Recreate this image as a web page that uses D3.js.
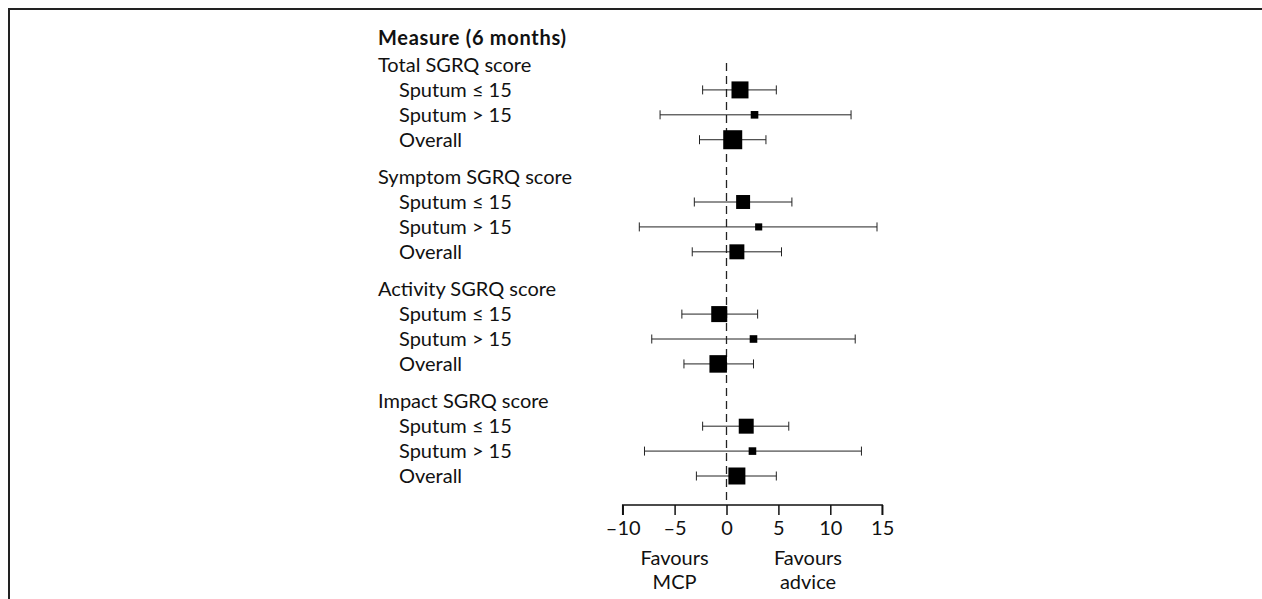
<!DOCTYPE html>
<html>
<head>
<meta charset="utf-8">
<script src="https://cdn.jsdelivr.net/npm/d3@7"></script>
<style>
  html, body { margin: 0; padding: 0; background: #fff; }
  svg { display: block; }
  text { font-family: Lato, "Open Sans", sans-serif; fill: #111; }
</style>
</head>
<body>
<svg id="chart" width="1262" height="599"></svg>
<script>
// ---------- data ----------
const title = "Measure (6 months)";
const measures = ["Total SGRQ score", "Symptom SGRQ score", "Activity SGRQ score", "Impact SGRQ score"];
const subgroups = ["Sputum ≤ 15", "Sputum > 15", "Overall"];
// one value per (measure, subgroup), measure-major order
const estimate = [1.3, 2.7, 0.6,   1.6, 3.1, 1.0,   -0.7, 2.6, -0.8,   1.9, 2.5, 1.0];
const lower    = [-2.3, -6.4, -2.6, -3.1, -8.4, -3.3, -4.3, -7.2, -4.1, -2.3, -7.9, -2.9];
const upper    = [4.8, 12.0, 3.8,  6.3, 14.5, 5.3,  3.0, 12.4, 2.6,  6.0, 13.0, 4.8];
const weight   = [80, 16, 100,     54, 14, 62,      71, 16, 85,      62, 16, 80];
const tickValues = [-10, -5, 0, 5, 10, 15];
const tickLabels = ["–10", "–5", "0", "5", "10", "15"];
const favourLeft = ["Favours", "MCP"];
const favourRight = ["Favours", "advice"];

// ---------- layout ----------
const svg = d3.select("#chart");
const W = 1262, H = 599;

// frame (top and left rules)
svg.append("path")
  .attr("d", `M9,${H} L9,9 L${W},9`)
  .attr("fill", "none").attr("stroke", "#222").attr("stroke-width", 2);

const x = d3.scaleLinear().domain([-10, 15]).range([622.7, 882.2]);
// slot positions: each measure uses 4 slots (header + 3 subgroups) plus half-slot gap
const y = d3.scaleLinear().domain([0, 16.5]).range([65, 476]);
const side = d3.scaleSqrt().domain([0, 100]).range([0, 19]);

const textX = 378, subX = 399;
const fs = 20;

svg.append("text")
  .attr("x", textX).attr("y", y(-1.08))
  .attr("dy", "0.35em")
  .style("font-weight", "bold").style("font-size", fs + "px")
  .style("letter-spacing", "0.7px")
  .text(title);

const rows = [];
measures.forEach((m, g) => {
  rows.push({ label: m, slot: g * 4.5, header: true });
  subgroups.forEach((s, k) => {
    const i = g * 3 + k;
    rows.push({ label: s, slot: g * 4.5 + k + 1, header: false,
                est: estimate[i], lo: lower[i], hi: upper[i], w: weight[i] });
  });
});

svg.selectAll("text.row").data(rows).enter().append("text")
  .attr("class", "row")
  .attr("x", d => d.header ? textX : subX)
  .attr("y", d => y(d.slot))
  .attr("dy", "0.35em")
  .style("font-size", fs + "px")
  .text(d => d.label);

const axisY = 505;

// reference line at zero
svg.append("line")
  .attr("x1", x(0)).attr("x2", x(0))
  .attr("y1", 63).attr("y2", axisY)
  .attr("stroke", "#222").attr("stroke-width", 1.3)
  .attr("stroke-dasharray", "8,5");

const data = rows.filter(d => !d.header);
const capH = 9;
const g = svg.append("g");
g.selectAll("line.ci").data(data).enter().append("line")
  .attr("x1", d => x(d.lo)).attr("x2", d => x(d.hi))
  .attr("y1", d => y(d.slot)).attr("y2", d => y(d.slot))
  .attr("stroke", "#222").attr("stroke-width", 1);
g.selectAll("line.capl").data(data).enter().append("line")
  .attr("x1", d => x(d.lo)).attr("x2", d => x(d.lo))
  .attr("y1", d => y(d.slot) - capH / 2).attr("y2", d => y(d.slot) + capH / 2)
  .attr("stroke", "#222").attr("stroke-width", 1);
g.selectAll("line.capr").data(data).enter().append("line")
  .attr("x1", d => x(d.hi)).attr("x2", d => x(d.hi))
  .attr("y1", d => y(d.slot) - capH / 2).attr("y2", d => y(d.slot) + capH / 2)
  .attr("stroke", "#222").attr("stroke-width", 1);
g.selectAll("rect.box").data(data).enter().append("rect")
  .attr("x", d => x(d.est) - side(d.w) / 2)
  .attr("y", d => y(d.slot) - side(d.w) / 2)
  .attr("width", d => side(d.w)).attr("height", d => side(d.w))
  .attr("fill", "#000");

// axis
const axis = d3.axisBottom(x).tickValues(tickValues).tickSize(10).tickPadding(6)
  .tickFormat((d, i) => tickLabels[i]);
const ax = svg.append("g").attr("transform", `translate(0,${axisY})`).call(axis);
ax.select(".domain").attr("d", `M${x(-10)},10V0H${x(15)}V10`).attr("stroke", "#111").attr("stroke-width", 1.5);
ax.selectAll(".tick line").attr("stroke", "#111").attr("stroke-width", 1.5);
ax.selectAll(".tick text").style("font-size", fs + "px").style("font-family", "Lato, sans-serif").attr("fill", "#111");

// favours labels
[[favourLeft, x(-5)], [favourRight, x(7.85)]].forEach(([lines, cx]) => {
  lines.forEach((t, j) => {
    svg.append("text").attr("x", cx).attr("y", 558 + j * 24)
      .attr("dy", "0.35em").attr("text-anchor", "middle")
      .style("font-size", fs + "px").text(t);
  });
});
</script>
</body>
</html>
